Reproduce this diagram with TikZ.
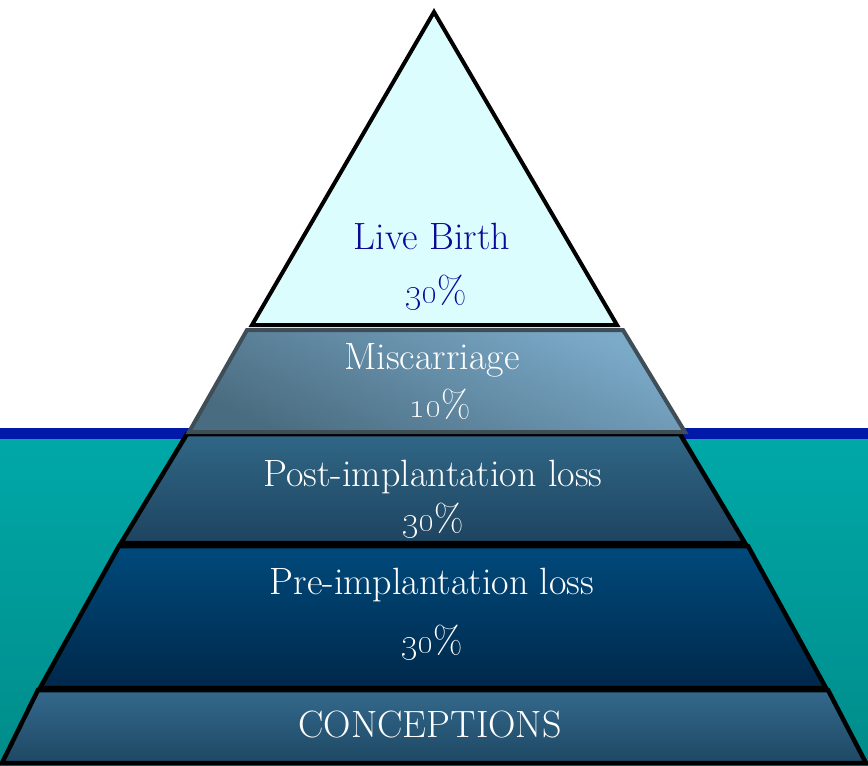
\documentclass[tikz,border=0pt]{standalone}
\usepackage{tikz}
\definecolor{seatop}{HTML}{00A8A8}
\definecolor{seabot}{HTML}{008C8A}
\definecolor{seaband}{HTML}{0019A8}
\definecolor{tipfill}{HTML}{DCFDFD}
\definecolor{tiptext}{HTML}{0A0A99}
\tikzset{layer/.style={draw=black, line width=4.5pt, line join=miter},
lbl/.style={text=white, font=\fontsize{38}{44}\selectfont, inner sep=0pt},
%old style digits like the slide font
pct/.style={lbl}}
\newcommand{\pc}[1]{\oldstylenums{#1}\%}

\begin{document}
\begin{tikzpicture}[x=1pt,y=-1pt]
\useasboundingbox (0,0) rectangle (868,766);
% sea
\shade[top color=seatop, bottom color=seabot] (0,438) rectangle (868,766);
\fill[seaband] (0,428) rectangle (868,439);

% layers, bottom up
\shadedraw[layer, top color={rgb,255:red,52;green,105;blue,140}, bottom color={rgb,255:red,30;green,72;blue,100}]
  (38,690) -- (828,690) -- (866,763) -- (2,763) -- cycle;
\shadedraw[layer, top color={rgb,255:red,0;green,74;blue,124}, bottom color={rgb,255:red,0;green,40;blue,74}]
  (119,546) -- (748,546) -- (826,688) -- (40,688) -- cycle;
\shadedraw[layer, top color={rgb,255:red,48;green,103;blue,134}, bottom color={rgb,255:red,30;green,68;blue,96}]
  (187,434) -- (680,434) -- (745,543) -- (121,543) -- cycle;
\shadedraw[layer, line width=4pt, draw={rgb,255:red,63;green,77;blue,86}, top color={rgb,255:red,124;green,171;blue,202},
  bottom color={rgb,255:red,74;green,108;blue,128}, shading angle=-25]
  (247,330) -- (623,330) -- (685,432) -- (189,432) -- cycle;
\filldraw[layer, line width=4pt, fill=tipfill] (434,12) -- (617,325) -- (252,325) -- cycle;

%labels
\node[lbl, text=tiptext] (live) at (432,236) {Live Birth};
\node[pct, text=tiptext] (livepct) at (436,293) {\pc{30}};
\node[lbl] (misc) at (432,360) {Miscarriage};
\node[pct] (miscpct) at (440,404) {\pc{10}};
\node[lbl] (post) at (433,477) {Post-implantation loss};
\node[pct] (postpct) at (433,521) {\pc{30}};
\node[lbl] (pre) at (432,585) {Pre-implantation loss};
\node[pct] (prepct) at (432,643) {\pc{30}};
\node[lbl] (conc) at (430,725) {CONCEPTIONS};
\end{tikzpicture}
\end{document}
